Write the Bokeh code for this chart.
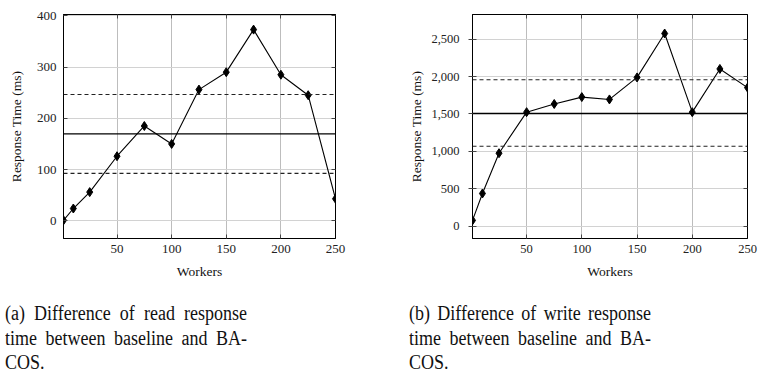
from bokeh.plotting import figure
from bokeh.models import (LinearAxis, Range1d, FixedTicker, Span, Div,
                          NumeralTickFormatter, CustomJSTickFormatter)
from bokeh.layouts import row, column
from bokeh.embed import file_html
from bokeh.resources import INLINE

# ---------------- data ----------------
workers = [1, 10, 25, 50, 75, 100, 125, 150, 175, 200, 225, 250]

read_diff = [1, 24, 56, 126, 185, 150, 256, 290, 373, 285, 245, 43]
read_mean = 169.5
read_upper = 246.5
read_lower = 92.5

write_diff = [79, 438, 976, 1524, 1633, 1725, 1694, 1988, 2574, 1524, 2101, 1852]
write_mean = 1506
write_upper = 1957
write_lower = 1068

x_ticks = [50, 100, 150, 200, 250]
read_y_ticks = [0, 100, 200, 300, 400]
write_y_ticks = [0, 500, 1000, 1500, 2000, 2500]

caption_a = "(a) Difference of read response time between baseline and BA-COS."
caption_b = "(b) Difference of write response time between baseline and BA-COS."

FONT = "Liberation Serif"


def make_plot(y, mean, upper, lower, y_ticks, yr, width, height, borders,
              tick_font, label_font, ylab_standoff, ytick_out, ytick_standoff,
              comma):
    left, right, top, bottom = borders
    p = figure(width=width, height=height, x_range=Range1d(1, 250),
               y_range=Range1d(*yr), output_backend="svg",
               toolbar_location=None, min_border_left=left,
               min_border_right=right, min_border_top=top,
               min_border_bottom=bottom)
    p.background_fill_color = "white"
    p.border_fill_color = "white"
    p.outline_line_color = "black"
    p.outline_line_width = 1

    p.xaxis.ticker = FixedTicker(ticks=x_ticks)
    p.yaxis.ticker = FixedTicker(ticks=y_ticks)
    if comma:
        p.yaxis.formatter = NumeralTickFormatter(format="0,0")

    for ax in (p.xaxis[0], p.yaxis[0]):
        ax.axis_line_color = "black"
        ax.major_tick_line_color = "#444444"
        ax.major_tick_in = 4
        ax.major_tick_out = 0
        ax.minor_tick_line_color = None
        ax.major_label_text_font = FONT
        ax.major_label_text_font_size = tick_font
        ax.major_label_text_color = "#222222"
        ax.axis_label_text_font = FONT
        ax.axis_label_text_font_size = label_font
        ax.axis_label_text_font_style = "normal"
        ax.axis_label_text_color = "#111111"

    p.xaxis.axis_label = "Workers"
    p.xaxis.major_label_standoff = 6
    p.xaxis.axis_label_standoff = 8
    p.yaxis.axis_label = "Response Time (ms)"
    p.yaxis.major_label_standoff = ytick_standoff
    p.yaxis.major_tick_out = ytick_out
    p.yaxis.axis_label_standoff = ylab_standoff

    blank = CustomJSTickFormatter(code="return ''")
    ax_r = LinearAxis(ticker=FixedTicker(ticks=y_ticks), formatter=blank,
                      major_tick_in=4, major_tick_out=0,
                      minor_tick_line_color=None, major_label_standoff=0,
                      axis_line_color="black", major_tick_line_color="#444444")
    ax_t = LinearAxis(ticker=FixedTicker(ticks=x_ticks), formatter=blank,
                      major_tick_in=4, major_tick_out=0,
                      minor_tick_line_color=None, major_label_standoff=0,
                      axis_line_color="black", major_tick_line_color="#444444")
    p.add_layout(ax_r, "right")
    p.add_layout(ax_t, "above")

    p.xgrid.grid_line_color = "#bdbdbd"
    p.xgrid.grid_line_width = 1
    p.ygrid.grid_line_color = "#d2d2d2"
    p.ygrid.grid_line_width = 1

    p.add_layout(Span(location=mean, dimension="width", line_color="black",
                      line_width=1.3))
    for loc in (upper, lower):
        p.add_layout(Span(location=loc, dimension="width", line_color="#222222",
                          line_width=1.1, line_dash="4 3"))

    p.line(workers, y, line_color="black", line_width=1.1)
    p.scatter(workers, y, marker="diamond", size=9, fill_color="black",
              line_color="black")
    return p


fa = make_plot(read_diff, read_mean, read_upper, read_lower, read_y_ticks,
               (-34.5, 402.5), 360, 280, (54, 30, 8, 48),
               "13px", "13.5px", 10, 0, 7, False)
fb = make_plot(write_diff, write_mean, write_upper, write_lower, write_y_ticks,
               (-163, 2828), 395, 280, (107, 13, 6, 46),
               "12.5px", "13.5px", 4, 4, 9, True)

cap_style = ("position:absolute; top:0; width:242px; font-family:'Liberation Serif';"
             " font-size:18px; line-height:20.5px; text-align:justify;"
             " color:#111; transform:scaleY(1.2); transform-origin:0 0;")
html = ('<div style="position:relative; width:756px; height:80px;">'
        f'<div style="{cap_style} left:0px;">{caption_a}</div>'
        f'<div style="{cap_style} left:404px;">{caption_b}</div>'
        '</div>')
captions = Div(text=html, width=756, height=80, margin=(15, 0, 0, 0))

layout = column(row(fa, fb, spacing=0), captions, spacing=0,
                margin=(6, 0, 0, 5))

open("out.html", "w").write(file_html(layout, INLINE))
